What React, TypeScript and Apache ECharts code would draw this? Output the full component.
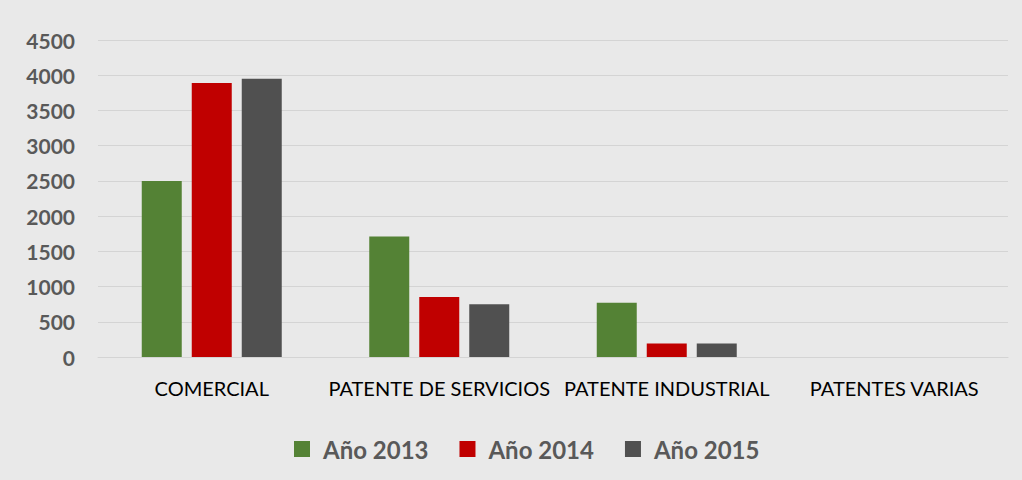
import React, { useEffect, useRef } from "react";
import * as echarts from "echarts";

const categories = ["COMERCIAL", "PATENTE DE SERVICIOS", "PATENTE INDUSTRIAL", "PATENTES VARIAS"];
const seriesNames = ["Año 2013", "Año 2014", "Año 2015"];
const values2013 = [2500, 1710, 770, 0];
const values2014 = [3890, 850, 190, 0];
const values2015 = [3950, 750, 190, 0];
const seriesColors = ["#548235", "#C00000", "#505050"];
const yTicks = { min: 0, max: 4500, interval: 500 };

export default function App() {
  const ref = useRef<HTMLDivElement>(null);
  useEffect(() => {
    if (!ref.current) return;
    const chart = echarts.init(ref.current, null, { renderer: "svg" });
    const data = [values2013, values2014, values2015];
    chart.setOption({
      animation: false,
      backgroundColor: "#e9e9e9",
      textStyle: { fontFamily: "Lato, 'Open Sans', sans-serif" },
      grid: { left: 98, right: 14, top: 40, bottom: 123 },
      legend: {
        left: 289,
        top: 432,
        itemWidth: 16,
        itemHeight: 16,
        itemGap: 31,
        icon: "rect",
        textStyle: { fontSize: 24, fontWeight: "bold", color: "#595959", padding: [0, 0, 0, 8] },
        data: seriesNames,
      },
      xAxis: {
        type: "category",
        data: categories,
        axisLine: { show: true, lineStyle: { color: "#d4d4d4", width: 1 } },
        axisTick: { show: false },
        axisLabel: { interval: 0, color: "#000", fontSize: 20, margin: 21 },
      },
      yAxis: {
        type: "value",
        min: yTicks.min,
        max: yTicks.max,
        interval: yTicks.interval,
        axisLine: { show: false },
        axisTick: { show: false },
        splitLine: { lineStyle: { color: "#d4d4d4", width: 1 } },
        axisLabel: {
          color: "#595959",
          fontSize: 21,
          fontWeight: "bold",
          margin: 23,
          formatter: (v: number) => String(v),
        },
      },
      series: seriesNames.map((name, i) => ({
        name,
        type: "bar",
        data: data[i],
        barWidth: 40,
        barGap: "25%",
        itemStyle: { color: seriesColors[i] },
      })),
    });
    return () => chart.dispose();
  }, []);
  return (
    <div
      ref={ref}
      style={{ position: "fixed", left: 0, top: 0, width: 1022, height: 480 }}
    />
  );
}
